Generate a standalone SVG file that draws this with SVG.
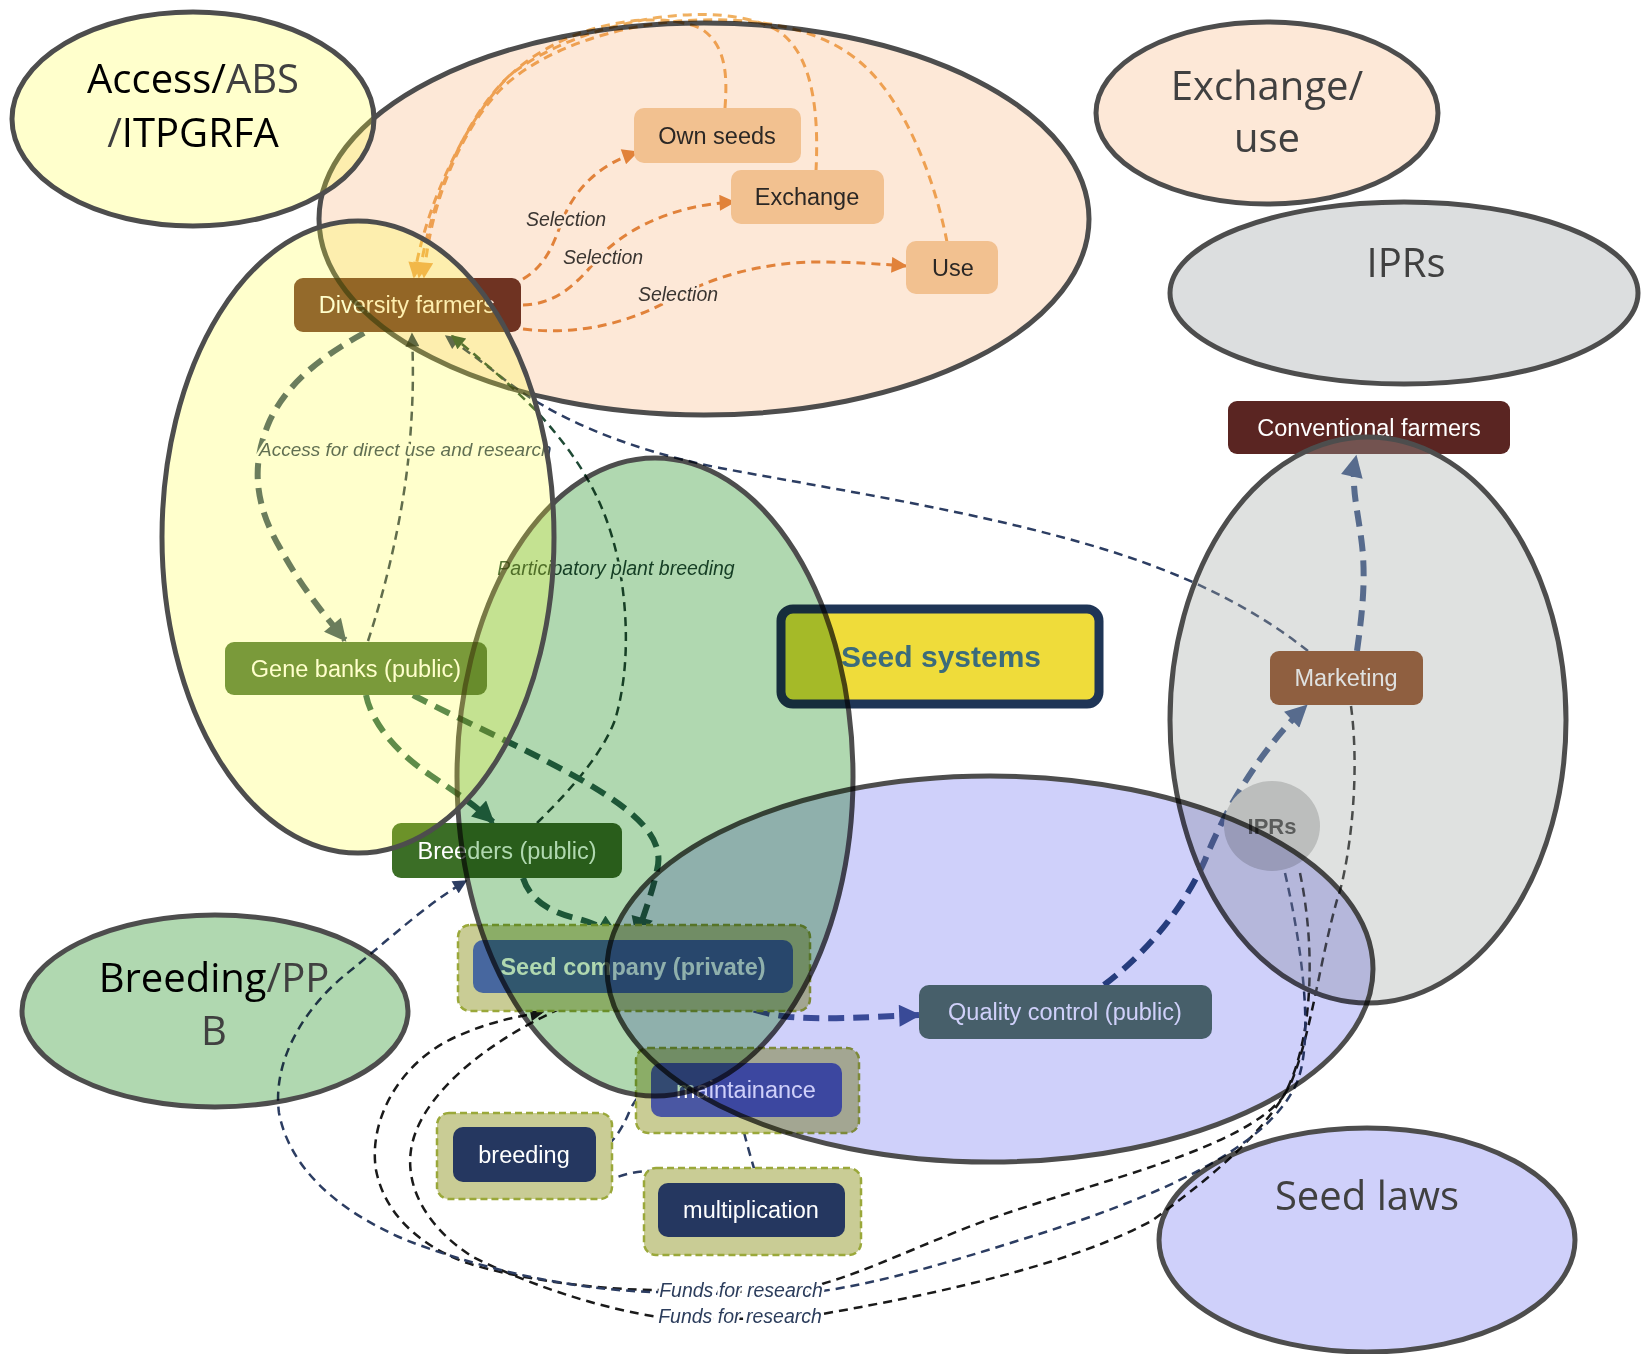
<svg xmlns="http://www.w3.org/2000/svg" width="1641" height="1354" viewBox="0 0 1641 1354">
<style>
.nt{font-family:"Liberation Sans",Arial,sans-serif;font-size:23.5px;fill:#ffffff;text-anchor:middle}
.nd{fill:#2b2b2b}
.el{font-family:"Liberation Sans",Arial,sans-serif;font-style:italic;font-size:19.5px;text-anchor:middle;paint-order:stroke;stroke:#ffffff;stroke-width:5;stroke-linejoin:round}
.rl{font-family:"Open Sans","Noto Sans",sans-serif;font-size:40px;text-anchor:middle;fill:#404040}
.blk{fill:#000000}
.reg{stroke:#4d4d4d;stroke-width:5}
.mul{mix-blend-mode:multiply}
.thick{fill:none;stroke-width:6;stroke-dasharray:16 9}
.thin{fill:none;stroke-width:2.5;stroke-dasharray:9 6}
.or{fill:none;stroke-width:3;stroke-dasharray:9 6}
.grp{stroke:#9aa83a;stroke-width:2.5;stroke-dasharray:7 4;fill:#c9cc95}
</style>
<defs>
<marker id="mSlate" viewBox="0 0 10 10" refX="9" refY="5" markerWidth="24" markerHeight="22" markerUnits="userSpaceOnUse" orient="auto"><path d="M0,0 L10,5 L0,10 Z" fill="#3a526a"/></marker>
<marker id="mGreen" viewBox="0 0 10 10" refX="9" refY="5" markerWidth="24" markerHeight="22" markerUnits="userSpaceOnUse" orient="auto"><path d="M0,0 L10,5 L0,10 Z" fill="#2a6650"/></marker>
<marker id="mBlue" viewBox="0 0 10 10" refX="9" refY="5" markerWidth="24" markerHeight="22" markerUnits="userSpaceOnUse" orient="auto"><path d="M0,0 L10,5 L0,10 Z" fill="#465a9a"/></marker>
<marker id="mNavyT" viewBox="0 0 10 10" refX="9" refY="5" markerWidth="24" markerHeight="22" markerUnits="userSpaceOnUse" orient="auto"><path d="M0,0 L10,5 L0,10 Z" fill="#2e4a80"/></marker>
<marker id="mOr" viewBox="0 0 10 10" refX="9" refY="5" markerWidth="18" markerHeight="16" markerUnits="userSpaceOnUse" orient="auto"><path d="M0,0 L10,5 L0,10 Z" fill="#e38f45"/></marker>
<marker id="mOrL" viewBox="0 0 10 10" refX="9" refY="5" markerWidth="18" markerHeight="16" markerUnits="userSpaceOnUse" orient="auto"><path d="M0,0 L10,5 L0,10 Z" fill="#f0b060"/></marker>
<marker id="mNavy" viewBox="0 0 10 10" refX="9" refY="5" markerWidth="16" markerHeight="14" markerUnits="userSpaceOnUse" orient="auto"><path d="M0,0 L10,5 L0,10 Z" fill="#2c3d62"/></marker>
<marker id="mGT" viewBox="0 0 10 10" refX="9" refY="5" markerWidth="16" markerHeight="14" markerUnits="userSpaceOnUse" orient="auto"><path d="M0,0 L10,5 L0,10 Z" fill="#1f4a35"/></marker>
<marker id="mST" viewBox="0 0 10 10" refX="9" refY="5" markerWidth="16" markerHeight="14" markerUnits="userSpaceOnUse" orient="auto"><path d="M0,0 L10,5 L0,10 Z" fill="#2c3d55"/></marker>
<marker id="mBlk" viewBox="0 0 10 10" refX="9" refY="5" markerWidth="16" markerHeight="14" markerUnits="userSpaceOnUse" orient="auto"><path d="M0,0 L10,5 L0,10 Z" fill="#1a1a1a"/></marker>
</defs>
<rect width="1641" height="1354" fill="#ffffff"/>

<g id="connectors">
<path class="or" stroke="#f0b060" d="M725,108 C727,80 728,45 700,28 C650,8 560,25 505,80 C460,130 425,210 414,277" marker-end="url(#mOrL)"/>
<path class="or" stroke="#f0b060" d="M816,171 C818,130 818,60 780,32 C720,-5 580,20 510,75 C462,120 430,205 419,277" marker-end="url(#mOrL)"/>
<path class="or" stroke="#f0b060" d="M947,242 C935,180 905,100 860,62 C820,28 760,18 700,20 C620,22 540,50 500,90 C458,135 430,205 424,277" marker-end="url(#mOrL)"/>
<path class="or" stroke="#e38f45" d="M523,279 C552,262 556,232 567,210 C580,185 600,165 637,152" marker-end="url(#mOr)"/>
<path class="or" stroke="#e38f45" d="M523,305 C556,304 575,285 595,262 C620,232 670,205 734,202" marker-end="url(#mOr)"/>
<path class="or" stroke="#e38f45" d="M523,329 C580,336 630,322 670,300 C710,278 760,262 820,262 C850,262 880,264 906,266" marker-end="url(#mOr)"/>
<path class="thick" stroke="#3a526a" d="M364,333 C330,352 290,378 270,420 C250,465 255,505 280,548 C300,585 322,612 345,640" marker-end="url(#mSlate)"/>
<path class="thin" stroke="#2c3d55" d="M368,641 C385,590 405,510 410,440 C414,390 413,360 412,334" marker-end="url(#mST)"/>
<path class="thin" stroke="#2c3d62" d="M1308,651 C1250,605 1180,572 1100,548 C980,512 850,492 720,468 C620,448 550,415 505,380 C480,360 460,346 446,336" marker-end="url(#mNavy)"/>
<path class="thin" stroke="#1f4a35" d="M537,823 C560,800 600,760 615,720 C630,670 628,610 618,560 C605,500 580,460 540,415 C515,388 478,357 452,336" marker-end="url(#mGT)"/>
<path class="thick" stroke="#2a6650" d="M366,695 C372,725 400,755 430,775 C455,792 475,805 493,822" marker-end="url(#mGreen)"/>
<path class="thick" stroke="#2a6650" d="M413,695 C460,720 540,755 590,785 C640,815 665,840 657,870 C652,895 643,915 637,937" marker-end="url(#mGreen)"/>
<path class="thick" stroke="#2a6650" d="M523,878 C530,900 550,912 575,918 C590,922 605,928 617,935" marker-end="url(#mGreen)"/>
<path class="thick" stroke="#465a9a" d="M707,993 C735,1003 755,1013 790,1017 C830,1020 870,1017 919,1015" marker-end="url(#mBlue)"/>
<path class="thick" stroke="#2e4a80" d="M1104,985 C1150,950 1185,905 1205,860 C1225,810 1260,750 1306,706" marker-end="url(#mNavyT)"/>
<path class="thick" stroke="#2e4a80" d="M1357,651 C1362,615 1366,580 1362,545 C1358,510 1350,485 1356,457" marker-end="url(#mNavyT)"/>
<path class="thin" stroke="#2c3d62" d="M741,1118 C745,1140 752,1160 758,1183" marker-end="url(#mNavy)"/>
<path class="thin" stroke="#2c3d62" d="M700,1183 C670,1168 640,1168 615,1178 C600,1184 592,1187 583,1189" marker-end="url(#mNavy)"/>
<path class="thin" stroke="#2c3d62" d="M596,1153 C612,1145 622,1130 630,1110 C636,1098 640,1094 650,1090" marker-end="url(#mNavy)"/>
<path class="thin" stroke="#1a1a1a" d="M1300,873 C1318,960 1310,1050 1283,1097 C1240,1150 1100,1180 987,1220 C920,1245 870,1270 822,1284 C770,1295 700,1292 660,1290 C600,1290 520,1280 464,1262 C420,1245 385,1215 376,1170 C368,1120 400,1060 460,1035 C490,1022 515,1017 543,1012" marker-end="url(#mBlk)"/>
<path class="thin" stroke="#1a1a1a" d="M1351,706 C1362,790 1345,880 1337,900 C1320,960 1310,1040 1290,1085 C1260,1140 1200,1185 1153,1220 C1080,1260 960,1290 822,1314 C760,1320 700,1320 659,1317 C610,1310 540,1290 473,1257 C430,1230 405,1190 411,1150 C418,1100 480,1040 587,997" marker-end="url(#mBlk)"/>
<path class="thin" stroke="#2c3d62" d="M1285,873 C1305,960 1312,1040 1298,1080 C1270,1150 1150,1200 1020,1240 C950,1262 880,1283 822,1291 C760,1297 700,1293 652,1292 C560,1289 470,1265 406,1240 C340,1212 290,1170 279,1113 C272,1060 305,1008 345,975 C385,943 425,905 466,881" marker-end="url(#mNavy)"/>
</g>

<g id="edge-labels">
<text class="el" x="566" y="226" fill="#3a3a3a">Selection</text>
<text class="el" x="603" y="264" fill="#3a3a3a">Selection</text>
<text class="el" x="678" y="301" fill="#3a3a3a">Selection</text>
<text class="el" x="259" y="456" fill="#2c3f5c" style="text-anchor:start;font-size:19px">Access for direct use and research</text>
<text class="el" x="616" y="575" fill="#1f4a35">Participatory plant breeding</text>
<text class="el" x="741" y="1297" fill="#2c3d5c">Funds for research</text>
<text class="el" x="740" y="1323" fill="#2c3d5c">Funds for research</text>
</g>

<g id="node-own-seeds"><rect x="634" y="108" width="167" height="55" rx="10" fill="#f4d4ab"/><text class="nt nd" x="717" y="144">Own seeds</text></g>
<g id="node-exchange"><rect x="731" y="170" width="153" height="54" rx="10" fill="#f4d4ab"/><text class="nt nd" x="807" y="205">Exchange</text></g>
<g id="node-use"><rect x="906" y="241" width="92" height="53" rx="10" fill="#f4d4ab"/><text class="nt nd" x="953" y="276">Use</text></g>
<g id="node-diversity-farmers"><rect x="294" y="278" width="227" height="54" rx="9" fill="#703828"/><text class="nt" x="407" y="313">Diversity farmers</text></g>
<g id="node-gene-banks"><rect x="225" y="642" width="262" height="53" rx="9" fill="#4e783c"/><text class="nt" x="356" y="677">Gene banks (public)</text></g>
<g id="node-breeders"><rect x="392" y="823" width="230" height="55" rx="9" fill="#3b6e26"/><text class="nt" x="507" y="859">Breeders (public)</text></g>
<g id="node-seed-company"><rect class="grp" x="458" y="925" width="352" height="86" rx="12"/><rect x="473" y="940" width="320" height="53" rx="10" fill="#47679f"/><text class="nt" x="633" y="975" style="font-weight:bold">Seed company (private)</text></g>
<g id="node-quality-control"><rect x="919" y="985" width="293" height="54" rx="10" fill="#57746c"/><text class="nt" x="1065" y="1020">Quality control (public)</text></g>
<g id="node-maintainance"><rect class="grp" x="636" y="1048" width="223" height="85" rx="12"/><rect x="651" y="1063" width="191" height="54" rx="10" fill="#4a57a3"/><text class="nt" x="746" y="1098">maintainance</text></g>
<g id="node-breeding"><rect class="grp" x="437" y="1113" width="175" height="86" rx="12"/><rect x="453" y="1127" width="143" height="55" rx="10" fill="#253760"/><text class="nt" x="524" y="1163">breeding</text></g>
<g id="node-multiplication"><rect class="grp" x="644" y="1168" width="217" height="87" rx="12"/><rect x="658" y="1183" width="187" height="54" rx="10" fill="#253760"/><text class="nt" x="751" y="1218">multiplication</text></g>
<g id="node-seed-systems"><rect x="781" y="609" width="318" height="95" rx="12" fill="#efdc3a" stroke="#1f3556" stroke-width="9"/><text x="941" y="667" style="font-family:'Liberation Sans',Arial,sans-serif;font-weight:bold;font-size:30px;fill:#3b6b7b;text-anchor:middle">Seed systems</text></g>
<g id="node-conventional-farmers"><rect x="1228" y="401" width="282" height="53" rx="9" fill="#5a2522"/><text class="nt" x="1369" y="436">Conventional farmers</text></g>
<g id="node-marketing"><rect x="1270" y="651" width="153" height="54" rx="9" fill="#85380a"/><text class="nt" x="1346" y="686">Marketing</text></g>
<g id="node-iprs"><ellipse cx="1272" cy="826" rx="48" ry="45" fill="#c9c9c9"/><text x="1272" y="834" style="font-family:'Liberation Sans',Arial,sans-serif;font-weight:bold;font-size:22px;fill:#333333;text-anchor:middle">IPRs</text></g>

<g id="region-exchange-use-area"><ellipse class="reg mul" cx="704" cy="219" rx="385" ry="196" fill="#fde8d7"/></g>
<g id="region-breeding-area"><ellipse class="reg mul" cx="655" cy="777" rx="198" ry="319" fill="#b0d8b0"/></g>
<g id="region-ipr-area"><ellipse class="reg" cx="1368" cy="720" rx="198" ry="283" fill="rgb(164,169,167)" fill-opacity="0.35"/></g>
<g id="region-seed-law-area"><ellipse class="reg mul" cx="990" cy="969" rx="383" ry="193" fill="#cfd0fa"/></g>
<g id="region-access-area"><ellipse class="reg" cx="358" cy="537" rx="196" ry="316" fill="#ffff33" fill-opacity="0.25"/></g>

<g id="legend-access"><ellipse class="reg" cx="193" cy="119" rx="181" ry="107" fill="#ffff33" fill-opacity="0.25"/>
<text class="rl" x="193" y="93"><tspan class="blk">Access/</tspan>ABS</text>
<text class="rl" x="193" y="147">/<tspan class="blk">ITPGRFA</tspan></text></g>
<g id="legend-exchange"><ellipse class="reg" cx="1267" cy="113" rx="171" ry="91" fill="#fde8d7"/>
<text class="rl" x="1267" y="100">Exchange/</text><text class="rl" x="1267" y="152">use</text></g>
<g id="legend-iprs"><ellipse class="reg" cx="1404" cy="293" rx="234" ry="91" fill="#dcdedf"/><text class="rl" x="1406" y="277">IPRs</text></g>
<g id="legend-breeding"><ellipse class="reg mul" cx="215" cy="1011" rx="193" ry="96" fill="#b0d8b0"/>
<text class="rl" x="214" y="992"><tspan class="blk">Breeding</tspan>/PP</text><text class="rl" x="214" y="1045">B</text></g>
<g id="legend-seed-laws"><ellipse class="reg mul" cx="1367" cy="1240" rx="208" ry="112" fill="#cfd0fa"/><text class="rl" x="1367" y="1210">Seed laws</text></g>
</svg>
